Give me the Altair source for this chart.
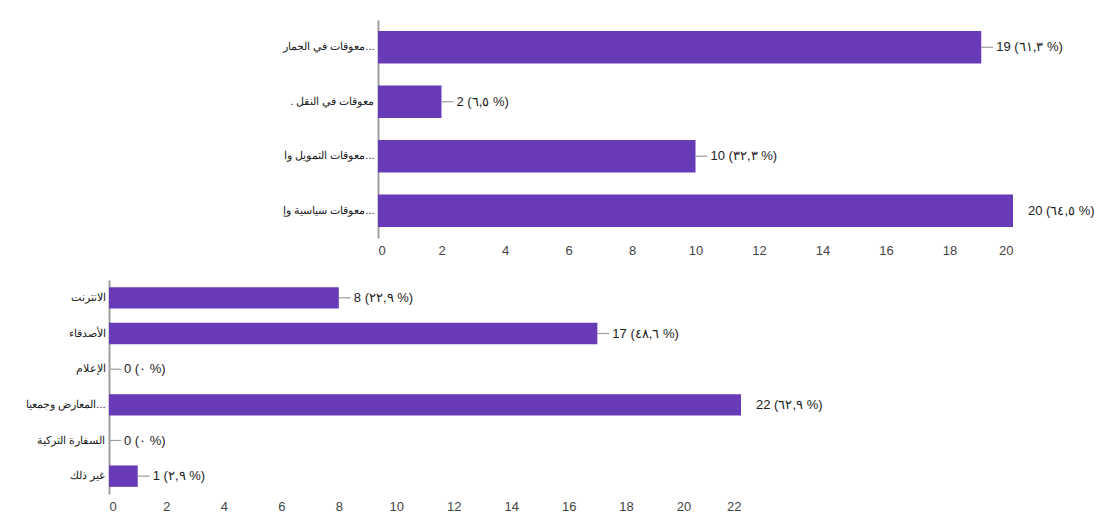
import altair as alt
import pandas as pd

# ---- data ----
top_categories = ["معوقات في الجمار...", ". معوقات في النقل", "معوقات التمويل وا...", "معوقات سياسية وإ..."]
top_counts = [19, 2, 10, 20]
top_pct = ["٦١,٣", "٦,٥", "٣٢,٣", "٦٤,٥"]
top_ticks = [0, 2, 4, 6, 8, 10, 12, 14, 16, 18, 20]

bottom_categories = ["الانترنت", "الأصدقاء", "الإعلام", "المعارض وجمعيا...", "السفارة التركية", "غير ذلك"]
bottom_counts = [8, 17, 0, 22, 0, 1]
bottom_pct = ["٢٢,٩", "٤٨,٦", "٠", "٦٢,٩", "٠", "٢,٩"]
bottom_ticks = [0, 2, 4, 6, 8, 10, 12, 14, 16, 18, 20, 22]

FONT = "Liberation Sans"
PURPLE = "#673ab7"

PLOT_W = 904
PLOT_H = 474


def panel(cats, counts, pcts, ticks, xmax, x_range, y_range, x_axis_offset, y_axis_offset):
    df = pd.DataFrame({"cat": cats, "n": counts, "pct": pcts})
    df["label"] = [f"{n} ({p} %)" for n, p in zip(counts, pcts)]
    px_per_unit = (x_range[1] - x_range[0]) / xmax
    y_axis = alt.Axis(
        orient="left", offset=y_axis_offset, labelPadding=4, ticks=False,
        domainColor="#9e9e9e", domainWidth=2, labelFontSize=11,
        labelColor="#222222", labelLimit=400, labelFont=FONT, grid=False,
    )
    y = alt.Y("cat:N", sort=cats, title=None,
              scale=alt.Scale(paddingInner=0.4, paddingOuter=0.2, range=y_range),
              axis=y_axis)
    y_plain = alt.Y("cat:N", sort=cats)
    x = alt.X("n:Q", title=None,
              scale=alt.Scale(domain=[0, xmax], nice=False, range=x_range),
              axis=alt.Axis(orient="bottom", offset=x_axis_offset, values=ticks,
                            grid=False, domain=False, ticks=False,
                            labelPadding=6, labelFontSize=13, labelColor="#444444",
                            labelFont=FONT))
    base = alt.Chart(df)
    bars = base.mark_bar(color=PURPLE).encode(x=x, y=y)
    conn = (
        base.transform_filter(f"datum.n < {xmax}")
        .transform_calculate(x2=f"datum.n + {12 / px_per_unit}")
        .mark_rule(color="#9e9e9e", strokeWidth=1.2)
        .encode(x="n:Q", x2="x2:Q", y=y_plain)
    )
    text = base.mark_text(align="left", baseline="middle", dx=15, font=FONT,
                          fontSize=13, color="#222222").encode(
        x="n:Q", y=y_plain, text="label:N")
    return alt.layer(bars, conn, text)


top = panel(top_categories, top_counts, top_pct, top_ticks, 20,
            [269, 904], [0, 218], -(PLOT_H - 218), -269)
bottom = panel(bottom_categories, bottom_counts, bottom_pct, bottom_ticks, 22,
               [0, 632], [260, 474], 0, 0)

chart = (
    alt.layer(top, bottom)
    .resolve_scale(x="independent", y="independent")
    .resolve_axis(x="independent", y="independent")
    .properties(
        width=PLOT_W, height=PLOT_H,
        autosize=alt.AutoSizeParams(type="none"),
        padding={"left": 101, "top": 12, "right": 82, "bottom": 20},
    )
    .configure(font=FONT)
    .configure_view(stroke="transparent")
)

chart.save("out.html", embed_options={"renderer": "svg", "actions": False})
